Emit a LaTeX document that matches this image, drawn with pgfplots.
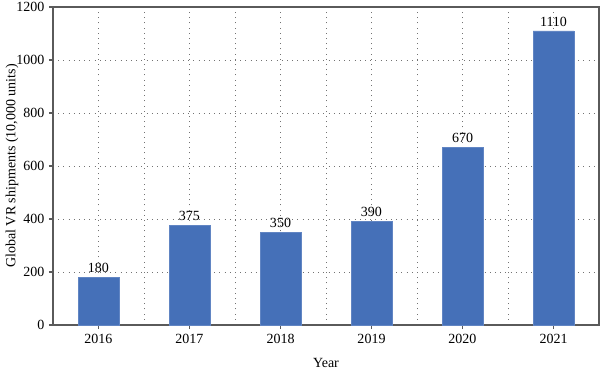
\documentclass[border=0pt]{standalone}
\usepackage{pgfplots}
\pgfplotsset{compat=1.18}
\usepackage{fontspec}
\setmainfont{Liberation Serif}
\definecolor{barblue}{HTML}{4570B8}
\definecolor{axgray}{HTML}{5A5A5A}
\begin{document}
\begin{tikzpicture}
\begin{axis}[
  scale only axis,
  width=409.5pt, height=238.5pt,
  xmin=-0.5, xmax=5.5, ymin=0, ymax=1200,
  xtick={0,1,2,3,4,5},
  xticklabels={2016,2017,2018,2019,2020,2021},
  minor xtick={0.5,1.5,2.5,3.5,4.5},
  ytick={0,200,400,600,800,1000,1200},
  xmajorgrids, xminorgrids, ymajorgrids,
  grid style={dash pattern=on 0.7pt off 3.2pt, gray!90!black, line width=0.7pt},
  minor grid style={dash pattern=on 0.7pt off 3.2pt, gray!90!black, line width=0.7pt},
  axis line style={axgray, line width=0.9pt},
  tick style={axgray, line width=0.8pt},
  tick align=outside,
  xtick pos=bottom, ytick pos=left,
  major tick length=3pt,
  minor tick length=0pt,
  /pgf/number format/assume math mode=true,
  /pgf/number format/set thousands separator={},
  ticklabel style={font=\fontsize{10.5}{12}\selectfont},
  xlabel={Year},
  ylabel={Global VR shipments (10,000 units)},
  label style={font=\fontsize{10.5}{12}\selectfont},
  xlabel style={at={(axis description cs:0.5,-0.1195)}, anchor=center},
  ylabel style={at={(axis description cs:-0.0751,0.5)}, anchor=center, rotate=0},
  nodes near coords,
  nodes near coords style={font=\fontsize{10.5}{12}\selectfont, /pgf/number format/assume math mode=true, /pgf/number format/set thousands separator={}},
]
\addplot[ybar, bar width=0.45, fill=barblue, draw=barblue!85!white] coordinates {
 (0,180) (1,375) (2,350) (3,390) (4,670) (5,1110)};
\end{axis}
\pgfresetboundingbox
\path ([xshift=-39.75pt,yshift=-35.25pt]current axis.south west) rectangle ([xshift=0.75pt,yshift=5.25pt]current axis.north east);
\end{tikzpicture}
\end{document}
